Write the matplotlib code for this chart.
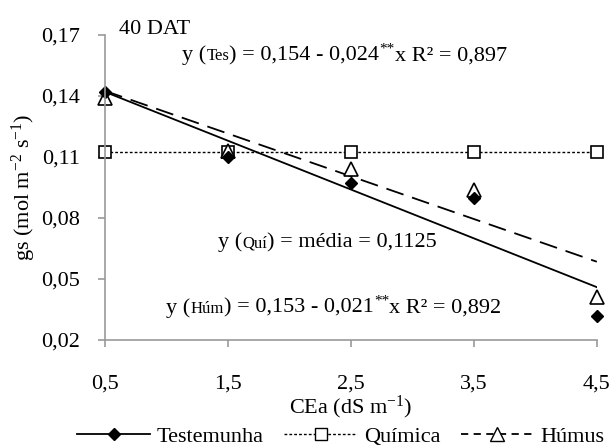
import numpy as np
import matplotlib.pyplot as plt
from matplotlib.ticker import FuncFormatter
from matplotlib.transforms import IdentityTransform

plt.rcParams['font.family'] = ['Liberation Serif', 'DejaVu Serif']
plt.rcParams['mathtext.fontset'] = 'custom'
plt.rcParams['mathtext.rm'] = 'Liberation Serif'
plt.rcParams['mathtext.it'] = 'Liberation Serif'

# Data
cea = [0.5, 1.5, 2.5, 3.5, 4.5]
testemunha = [0.142, 0.110, 0.097, 0.090, 0.032]
quimica = [0.1125, 0.1125, 0.1125, 0.1125, 0.1125]
humus = [0.139, 0.113, 0.104, 0.094, 0.041]

# Regression coefficients (intercept, slope) and mean
tes_fit = (0.154, -0.024)
hum_fit = (0.153, -0.021)
qui_mean = 0.1125

x_ticks = [0.5, 1.5, 2.5, 3.5, 4.5]
y_ticks = [0.02, 0.05, 0.08, 0.11, 0.14, 0.17]

fig = plt.figure(figsize=(6.14, 4.48), dpi=100)
ax = fig.add_axes([0.171, 0.241, 0.801, 0.681])

xs = np.array([cea[0], cea[-1]])
qui_style = (0, (2, 1.5))
hum_style = (0, (10, 5))

# trend lines
ax.plot(xs, tes_fit[0] + tes_fit[1] * xs, color='black', linewidth=1.3)
ax.plot(xs, [qui_mean, qui_mean], color='black', linewidth=1, linestyle=qui_style)
ax.plot(xs, hum_fit[0] + hum_fit[1] * xs, color='black', linewidth=1.3, linestyle=hum_style)

# points
ax.plot(cea, quimica, linestyle='none', marker='s', markerfacecolor='white',
        markeredgecolor='black', markersize=9, markeredgewidth=1.2, clip_on=False)
ax.plot(cea, humus, linestyle='none', marker='^', markerfacecolor='white',
        markeredgecolor='black', markersize=10, markeredgewidth=1.2, clip_on=False)
ax.plot(cea, testemunha, linestyle='none', marker='D', color='black', markersize=6,
        clip_on=False)

# legend handles
h1, = ax.plot([], [], color='black', linewidth=1.3, marker='D', markersize=6)
h2, = ax.plot([], [], color='black', linewidth=1, linestyle=qui_style, marker='s',
              markerfacecolor='white', markeredgecolor='black', markersize=9)
h3, = ax.plot([], [], color='black', linewidth=1.3, linestyle=(0, (4, 3)), marker='^',
              markerfacecolor='white', markeredgecolor='black', markersize=10)
fig.legend([h1, h2, h3], ['Testemunha', 'Química', 'Húmus'], loc='center',
           bbox_to_anchor=(0.555, 0.025), ncol=3, frameon=False, fontsize=16,
           handlelength=3.3, columnspacing=0.9, handletextpad=0.3)

ax.set_xlim(0.5, 4.5)
ax.set_ylim(0.02, 0.17)
ax.set_xticks(x_ticks)
ax.set_yticks(y_ticks)
ax.xaxis.set_major_formatter(FuncFormatter(lambda v, p: f"{v:.1f}".replace('.', ',')))
ax.yaxis.set_major_formatter(FuncFormatter(lambda v, p: f"{v:.2f}".replace('.', ',')))
ax.tick_params(labelsize=16, color='#999999', length=5, width=1.2)
ax.tick_params(axis='x', pad=20)
ax.tick_params(axis='y', pad=13)

for s in ['top', 'right']:
    ax.spines[s].set_visible(False)
for s in ['left', 'bottom']:
    ax.spines[s].set_color('#999999')
    ax.spines[s].set_linewidth(1.2)

ax.set_xlabel(r'CEa (dS $\mathregular{m^{-1}}$)', fontsize=16, labelpad=0)
ax.set_ylabel(r'gs (mol $\mathregular{m^{-2}}$ $\mathregular{s^{-1}}$)', fontsize=16, labelpad=2)

ax.text(0.61, 0.1705, '40 DAT', fontsize=16, va='baseline', clip_on=False)

fig.canvas.draw()
renderer = fig.canvas.get_renderer()


def eq_text(x, y, parts):
    # write the pieces one after the other on a common baseline
    # each part: (text, fontsize, vertical offset in pixels)
    xd, yd = ax.transData.transform((x, y))
    for s, size, dy in parts:
        t = fig.text(xd, yd + dy, s, fontsize=size, va='baseline',
                     transform=IdentityTransform())
        xd = t.get_window_extent(renderer).x1


eq_text(1.13, 0.1575, [('y (', 16, 0), ('Tes', 12, 0), (') = 0,154 - 0,024', 16, 0),
                       ('**', 11, 8), ('x R² = 0,897', 16, 0)])
eq_text(1.42, 0.0655, [('y (', 16, 0), ('Quí', 12, 0), (') = média = 0,1125', 16, 0)])
eq_text(1.0, 0.0335, [('y (', 16, 0), ('Húm', 12, 0), (') = 0,153 - 0,021', 16, 0),
                      ('**', 11, 8), ('x R² = 0,892', 16, 0)])

fig.savefig('out.png', dpi=100)
